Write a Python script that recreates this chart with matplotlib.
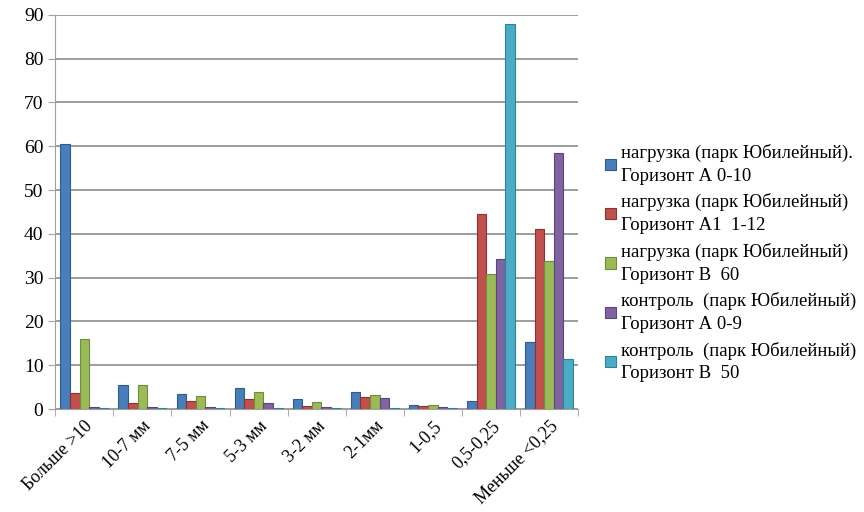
import numpy as np
import matplotlib.pyplot as plt

categories = ['Больше >10', '10-7 мм', '7-5 мм', '5-3 мм', '3-2 мм',
              '2-1мм', '1-0,5', '0,5-0,25', 'Меньше <0,25']

series_names = ['нагрузка (парк Юбилейный).\nГоризонт А 0-10',
                'нагрузка (парк Юбилейный)\nГоризонт А1  1-12',
                'нагрузка (парк Юбилейный)\nГоризонт В  60',
                'контроль  (парк Юбилейный)\nГоризонт А 0-9',
                'контроль  (парк Юбилейный)\nГоризонт В  50']

load_A = [60.5, 5.5, 3.5, 4.7, 2.2, 4.0, 1.0, 1.8, 15.4]
load_A1 = [3.7, 1.5, 1.8, 2.2, 0.8, 2.8, 0.7, 44.6, 41.0]
load_B = [16.0, 5.5, 3.0, 4.0, 1.7, 3.2, 1.0, 30.9, 33.9]
ctrl_A = [0.5, 0.5, 0.5, 1.3, 0.5, 2.5, 0.5, 34.3, 58.4]
ctrl_B = [0.3, 0.2, 0.2, 0.2, 0.2, 0.2, 0.3, 87.8, 11.5]

colors = ['#4a7ebb', '#c0504d', '#9bbb59', '#8064a2', '#4bacc6']
edges = ['#2f5c8f', '#8c3331', '#6f8c3a', '#5a4678', '#2f8099']

plt.rcParams['font.family'] = ['Liberation Serif', 'DejaVu Serif']

fig = plt.figure(figsize=(8.64, 5.12), dpi=100)
ax = fig.add_axes([0.064, 0.201, 0.605, 0.77])

data = [load_A, load_A1, load_B, ctrl_A, ctrl_B]
x = np.arange(len(categories))
w = 0.165
for i, vals in enumerate(data):
    ax.bar(x + (i - 2) * w, vals, w, color=colors[i], edgecolor=edges[i],
           linewidth=0.8, label=series_names[i], zorder=3)

ax.set_xlim(-0.5, len(categories) - 0.5)
ax.set_ylim(0, 90)
ax.set_yticks(np.arange(0, 91, 10))
ax.yaxis.grid(True, color='#8c8c8c', linewidth=1.2, zorder=0)
ax.set_axisbelow(True)
for s in ['top', 'right']:
    ax.spines[s].set_visible(False)
ax.spines['left'].set_color('#a0a0a0')
ax.spines['bottom'].set_color('#a0a0a0')
ax.set_xticks(np.arange(-0.5, len(categories), 1), minor=True)
ax.set_xticks(x)
ax.set_xticklabels(categories, rotation=45, ha='right', rotation_mode='anchor',
                   fontsize=13)
ax.tick_params(axis='x', which='major', length=0, pad=6)
ax.tick_params(axis='x', which='minor', length=5, color='#a0a0a0')
ax.tick_params(axis='y', labelsize=14, color='#a0a0a0', length=5)

leg = ax.legend(loc='center left', bbox_to_anchor=(1.02, 0.37), frameon=False,
                fontsize=13.5, handlelength=0.55, handleheight=0.55,
                handletextpad=0.3, labelspacing=0.45)
for t in leg.get_texts():
    t.set_linespacing(1.45)

fig.savefig('out.png', dpi=100)
